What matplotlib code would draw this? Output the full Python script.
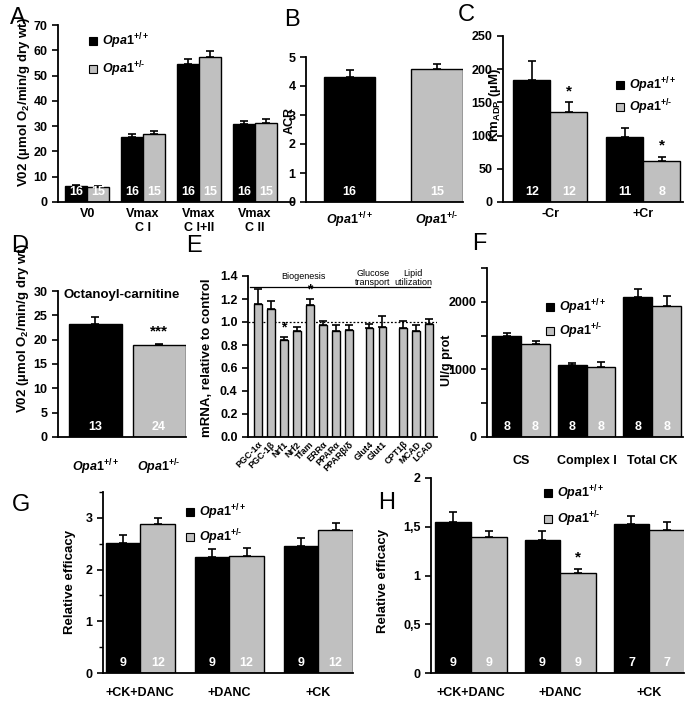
import matplotlib
matplotlib.use('Agg')
import matplotlib.pyplot as plt
import numpy as np
from matplotlib.patches import Rectangle

plt.rcParams['font.family'] = ['Liberation Sans', 'DejaVu Sans']
plt.rcParams['mathtext.fontset'] = 'custom'
plt.rcParams['mathtext.rm'] = 'Liberation Sans:bold'
plt.rcParams['mathtext.it'] = 'Liberation Sans:italic:bold'
plt.rcParams['mathtext.bf'] = 'Liberation Sans:bold'
plt.rcParams['font.weight'] = 'bold'

# ---------------- data ----------------
WT_LABEL = r'$\mathit{Opa1}^{+/+}$'
HET_LABEL = r'$\mathit{Opa1}^{+/\text{-}}$'

a_cats = ['V0', 'Vmax\nC I', 'Vmax\nC I+II', 'Vmax\nC II']
a_wt = [6.2, 25.7, 54.5, 30.9]
a_wt_err = [0.35, 1.1, 1.9, 1.3]
a_het = [6.1, 27.0, 57.2, 31.2]
a_het_err = [0.3, 1.1, 2.5, 1.6]
a_n_wt = [16, 16, 16, 16]
a_n_het = [15, 15, 15, 15]

b_cats = [WT_LABEL, HET_LABEL]
b_vals = [4.32, 4.57]
b_err = [0.23, 0.19]
b_n = [16, 15]

c_cats = ['-Cr', '+Cr']
c_wt = [183, 98]
c_wt_err = [30, 13]
c_het = [135, 61]
c_het_err = [15, 7]
c_n_wt = [12, 11]
c_n_het = [12, 8]

d_cats = [WT_LABEL, HET_LABEL]
d_vals = [23.3, 18.9]
d_err = [1.3, 0.3]
d_n = [13, 24]

e_genes = ['PGC-1α', 'PGC-1β', 'Nrf1', 'Nrf2', 'Tfam', 'ERRα', 'PPARα',
           'PPARβ/δ', 'Glut4', 'Glut1', 'CPT1β', 'MCAD', 'LCAD']
e_vals = [1.16, 1.11, 0.84, 0.92, 1.15, 0.97, 0.92, 0.93, 0.95, 0.96, 0.95, 0.92, 0.98]
e_err = [0.13, 0.07, 0.03, 0.04, 0.05, 0.04, 0.05, 0.04, 0.03, 0.09, 0.06, 0.05, 0.05]
e_groups = [8, 2, 3]
e_star = ['Nrf1', 'Tfam']

f_cats = ['CS', 'Complex I', 'Total CK']
f_wt = [1490, 1062, 2070]
f_wt_err = [55, 30, 120]
f_het = [1373, 1037, 1936]
f_het_err = [54, 79, 148]
f_n_wt = [8, 8, 8]
f_n_het = [8, 8, 8]

g_cats = ['+CK+DANC', '+DANC', '+CK']
g_wt = [2.52, 2.24, 2.46]
g_wt_err = [0.14, 0.15, 0.16]
g_het = [2.89, 2.27, 2.76]
g_het_err = [0.10, 0.14, 0.14]
g_n_wt = [9, 9, 9]
g_n_het = [12, 12, 12]

h_cats = ['+CK+DANC', '+DANC', '+CK']
h_wt = [1.55, 1.36, 1.53]
h_wt_err = [0.10, 0.10, 0.08]
h_het = [1.40, 1.03, 1.47]
h_het_err = [0.06, 0.04, 0.08]
h_n_wt = [9, 9, 7]
h_n_het = [9, 9, 7]

# ---------------- layout helpers ----------------
W, H = 696, 708
fig = plt.figure(figsize=(W / 100, H / 100), dpi=100)
BLACK = '#000000'
GRAY = '#c0c0c0'
TICK_FS = 9


def px_axes(x0, x1, ytop, ybot):
    return fig.add_axes([x0 / W, 1 - ybot / H, (x1 - x0) / W, (ybot - ytop) / H])


def ftext(x, y, s, **kw):
    fig.text(x / W, 1 - y / H, s, **kw)


def style(ax, xpad=4):
    for s in ['top', 'right']:
        ax.spines[s].set_visible(False)
    for s in ['left', 'bottom']:
        ax.spines[s].set_linewidth(1.3)
    ax.tick_params(axis='y', direction='out', length=4, width=1.2, labelsize=TICK_FS)
    ax.tick_params(axis='x', length=0, pad=xpad, labelsize=9)
    for lab in ax.get_yticklabels():
        lab.set_fontweight('bold')


def legend(x, y1, y2, fs=9):
    s = 8
    for y, col, lab in [(y1, BLACK, WT_LABEL), (y2, GRAY, HET_LABEL)]:
        fig.patches.append(Rectangle(((x) / W, 1 - (y + s / 2) / H), s / W, s / H,
                                     transform=fig.transFigure, facecolor=col,
                                     edgecolor='black', lw=0.8))
        ftext(x + s + 5, y, lab, ha='left', va='center', fontsize=fs)


def n_labels(ax, xs, ns, dy=7.0):
    for x, n in zip(xs, ns):
        ax.annotate(str(n), (x, 0), xytext=(0, dy), textcoords='offset points',
                    ha='center', va='center', color='white', fontsize=9,
                    fontweight='bold')


def ebar(ax, x, v, e):
    ax.errorbar(x, v, yerr=[np.zeros(len(v)), e], fmt='none', ecolor='black',
                capsize=3, elinewidth=1.2, capthick=1.2, zorder=3)


def grouped(ax, cats, wt, wt_e, het, het_e, n_wt, n_het, width):
    x = np.arange(len(cats))
    ax.bar(x - width / 2, wt, width, color=BLACK, edgecolor='black', lw=1, zorder=2)
    ax.bar(x + width / 2, het, width, color=GRAY, edgecolor='black', lw=1, zorder=2)
    ebar(ax, x - width / 2, wt, wt_e)
    ebar(ax, x + width / 2, het, het_e)
    n_labels(ax, x - width / 2, n_wt)
    n_labels(ax, x + width / 2, n_het)
    ax.set_xticks(x)
    ax.set_xticklabels(cats, fontweight='bold')
    return x


def single(ax, cats, vals, err, ns, width):
    x = np.arange(len(cats))
    ax.bar(x, vals, width, color=[BLACK, GRAY], edgecolor='black', lw=1, zorder=2)
    ebar(ax, x, vals, err)
    n_labels(ax, x, ns)
    ax.set_xticks(x)
    ax.set_xticklabels(cats, fontweight='bold', fontsize=9)
    return x


# ---------------- Panel A ----------------
axA = px_axes(58, 293, 25, 202)
grouped(axA, a_cats, a_wt, a_wt_err, a_het, a_het_err, a_n_wt, a_n_het, 0.40)
axA.set_xlim(-0.52, 3.68)
axA.set_ylim(0, 70)
axA.set_yticks(range(0, 71, 10))
style(axA, xpad=4)
for t in axA.get_xticklabels():
    t.set_linespacing(1.3)
ftext(24, 102, r'V02 (µmol O$_2$/min/g dry wt)', rotation=90, ha='center',
      va='center', fontsize=9.5)
legend(89, 41, 69)

# ---------------- Panel B ----------------
axB = px_axes(306, 463, 57, 202)
single(axB, b_cats, b_vals, b_err, b_n, 0.59)
axB.set_xlim(-0.5, 1.3)
axB.set_ylim(0, 5)
axB.set_yticks(range(0, 6))
style(axB, xpad=6)
ftext(290, 120, 'ACR', rotation=90, ha='center', va='center', fontsize=9)

# ---------------- Panel C ----------------
axC = px_axes(503, 683, 36, 202)
xc = grouped(axC, c_cats, c_wt, c_wt_err, c_het, c_het_err, c_n_wt, c_n_het, 0.40)
axC.set_xlim(-0.51, 1.43)
axC.set_ylim(0, 250)
axC.set_yticks(range(0, 251, 50))
style(axC, xpad=4)
for x, v, e in zip(xc + 0.2, c_het, c_het_err):
    axC.annotate('*', (x, v + e), xytext=(0, 3), textcoords='offset points',
                 ha='center', va='bottom', fontsize=11, fontweight='bold')
ftext(495, 105, r'Km$_{\mathrm{ADP}}$ (µM)', rotation=90, ha='center',
      va='center', fontsize=9.5)
legend(616, 85, 107)

# ---------------- Panel D ----------------
axD = px_axes(58, 186, 291, 437)
xd = single(axD, d_cats, d_vals, d_err, d_n, 0.83)
axD.set_xlim(-0.58, 1.42)
axD.set_ylim(0, 30)
axD.set_yticks(range(0, 31, 5))
style(axD, xpad=15)
axD.annotate('***', (xd[1], d_vals[1] + d_err[1]), xytext=(0, 4),
             textcoords='offset points', ha='center', va='bottom', fontsize=11,
             fontweight='bold')
axD.text(0.5, 0.97, 'Octanoyl-carnitine', transform=axD.transAxes, ha='center',
         va='center', fontsize=9.5, fontweight='bold')
ftext(23, 328, r'V02 (µmol O$_2$/min/g dry wt)', rotation=90, ha='center',
      va='center', fontsize=9.5)

# ---------------- Panel E ----------------
axE = px_axes(248, 437, 276, 437)
pos = []
start = 0.0
for g in e_groups:
    pos.extend(start + np.arange(g))
    start = pos[-1] + 1.6
pos = np.array(pos)
axE.bar(pos, e_vals, 0.6, color=GRAY, edgecolor='black', lw=1, zorder=2)
ebar(axE, pos, e_vals, e_err)
axE.axhline(1.0, color='black', lw=0.9, ls=(0, (1.5, 1.5)), zorder=1)
for g, x, v, e in zip(e_genes, pos, e_vals, e_err):
    if g in e_star:
        axE.annotate('*', (x, v + e), xytext=(0, 2), textcoords='offset points',
                     ha='center', va='bottom', fontsize=10, fontweight='bold')
axE.set_xlim(pos[0] - 0.75, pos[-1] + 0.6)
axE.set_ylim(0, 1.4)
axE.set_yticks(np.arange(0, 1.41, 0.2))
axE.set_yticklabels([f'{v:.1f}' for v in np.arange(0, 1.41, 0.2)])
style(axE, xpad=2)
axE.set_xticks(pos)
axE.set_xticklabels(e_genes, rotation=45, ha='right', rotation_mode='anchor',
                    fontsize=6.5, fontweight='bold')
ftext(207, 358, 'mRNA, relative to control', rotation=90, ha='center',
      va='center', fontsize=9.5)
# category annotations
ftext(303, 277, 'Biogenesis', ha='center', va='center', fontsize=6.5,
      fontweight='normal')
fig.add_artist(plt.Line2D([250 / W, 430 / W], [1 - 287 / H, 1 - 287 / H],
                          color='black', lw=0.9, transform=fig.transFigure))
ftext(373, 278, 'Glucose\ntransport', ha='center', va='center', fontsize=6.5,
      fontweight='normal', linespacing=1.0)
ftext(413, 278, 'Lipid\nutilization', ha='center', va='center', fontsize=6.5,
      fontweight='normal', linespacing=1.0)

# ---------------- Panel F ----------------
axF = px_axes(487, 683, 268, 437)
grouped(axF, f_cats, f_wt, f_wt_err, f_het, f_het_err, f_n_wt, f_n_het, 0.44)
axF.set_xlim(-0.52, 2.47)
axF.set_ylim(0, 2500)
axF.set_yticks([0, 1000, 2000])
axF.set_yticks([500, 1500, 2500], minor=True)
style(axF, xpad=13)
axF.tick_params(axis='y', which='minor', length=4, width=1.2)
ftext(447, 360, 'UI/g prot', rotation=90, ha='center', va='center', fontsize=9)
legend(546, 307, 331)

# ---------------- Panel G ----------------
axG = px_axes(103, 353, 492, 673)
grouped(axG, g_cats, g_wt, g_wt_err, g_het, g_het_err, g_n_wt, g_n_het, 0.39)
axG.set_xlim(-0.42, 2.39)
axG.set_ylim(0, 3.5)
axG.set_yticks([0, 1, 2, 3])
axG.set_yticks([0.5, 1.5, 2.5, 3.5], minor=True)
style(axG, xpad=10)
axG.tick_params(axis='y', which='minor', length=3, width=1.0)
ftext(70, 582, 'Relative efficacy', rotation=90, ha='center', va='center',
      fontsize=9.5)
legend(186, 512, 537)

# ---------------- Panel H ----------------
axH = px_axes(431, 684, 478, 673)
xh = grouped(axH, h_cats, h_wt, h_wt_err, h_het, h_het_err, h_n_wt, h_n_het, 0.40)
axH.set_xlim(-0.45, 2.39)
axH.set_ylim(0, 2)
axH.set_yticks([0, 0.5, 1, 1.5, 2])
axH.set_yticklabels(['0', '0,5', '1', '1,5', '2'])
style(axH, xpad=10)
axH.annotate('*', (xh[1] + 0.2, h_het[1] + h_het_err[1]), xytext=(0, 3),
             textcoords='offset points', ha='center', va='bottom', fontsize=11,
             fontweight='bold')
ftext(383, 581, 'Relative efficacy', rotation=90, ha='center', va='center',
      fontsize=9.5)
legend(544, 493, 519)

# ---------------- panel letters ----------------
for letter, x, y in [('A', 18, 18), ('B', 292, 20), ('C', 466, 15), ('D', 20, 246),
                     ('E', 194, 246), ('F', 479, 244), ('G', 21, 505), ('H', 387, 503)]:
    ftext(x, y, letter, ha='center', va='center', fontsize=17, fontweight='normal')

fig.savefig('out.png', dpi=100)
